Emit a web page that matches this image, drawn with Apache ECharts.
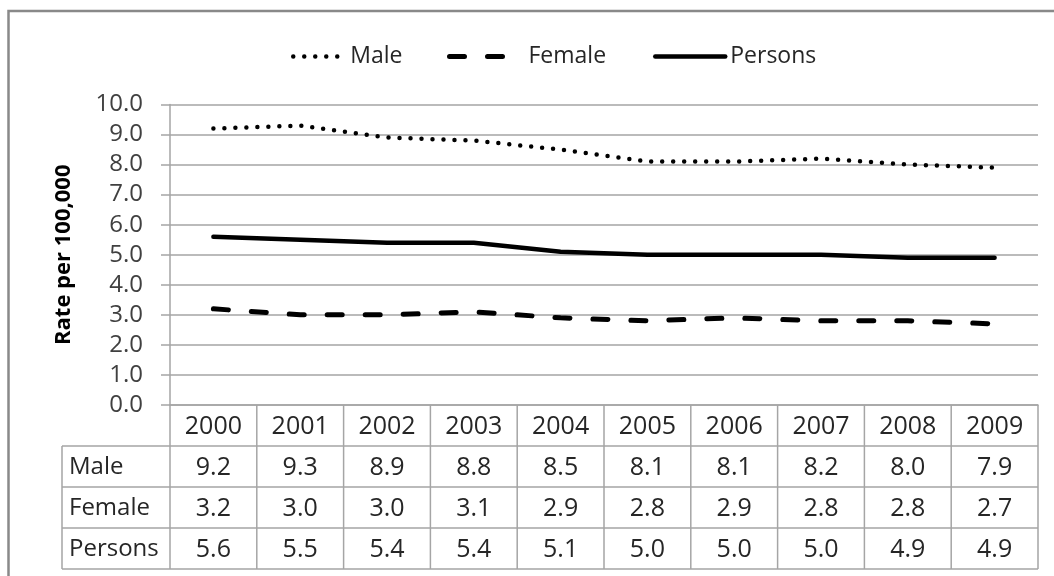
<!DOCTYPE html>
<html>
<head>
<meta charset="utf-8">
<script src="https://cdn.jsdelivr.net/npm/echarts@6/dist/echarts.min.js"></script>
<style>
  html, body { margin: 0; padding: 0; background: #fff; }
  #chart { width: 1054px; height: 576px; }
</style>
</head>
<body>
<div id="chart"></div>
<script>
var years = ["2000", "2001", "2002", "2003", "2004", "2005", "2006", "2007", "2008", "2009"];
var male = [9.2, 9.3, 8.9, 8.8, 8.5, 8.1, 8.1, 8.2, 8.0, 7.9];
var female = [3.2, 3.0, 3.0, 3.1, 2.9, 2.8, 2.9, 2.8, 2.8, 2.7];
var persons = [5.6, 5.5, 5.4, 5.4, 5.1, 5.0, 5.0, 5.0, 4.9, 4.9];
var rowNames = ["Male", "Female", "Persons"];

var FONT = "'Open Sans', 'Noto Sans', sans-serif";
var GRID_COLOR = "#a5a5a5";
var TEXT_COLOR = "#262626";

var chart = echarts.init(document.getElementById("chart"));

function legendFor(name, left, width, textPad, lineStyle) {
  return {
    data: [name],
    left: left,
    top: 40,
    itemWidth: width,
    itemHeight: 20,
    selectedMode: false,
    lineStyle: lineStyle,
    itemStyle: { opacity: 0 },
    textStyle: {
      fontFamily: FONT,
      fontSize: 23,
      color: TEXT_COLOR,
      padding: [0, 0, 0, textPad]
    }
  };
}

var maleStyle = { color: "#000", width: 4.5, type: [0, 11], cap: "round" };
var femaleStyle = { color: "#000", width: 5, type: [15, 23], cap: "round" };
var personsStyle = { color: "#000", width: 4.5, type: "solid", cap: "round" };

chart.setOption({
  animation: false,
  color: ["#000", "#000", "#000"],
  legend: [
    legendFor("Male", 286, 50, 2, maleStyle),
    legendFor("Female", 442, 61, 13, femaleStyle),
    legendFor("Persons", 648, 70, 0, personsStyle)
  ],
  grid: { left: 170, right: 16, top: 104.5, bottom: 171 },
  xAxis: {
    type: "category",
    data: years,
    boundaryGap: true,
    axisLine: { show: true, lineStyle: { color: GRID_COLOR, width: 1.5 } },
    axisTick: { show: false },
    axisLabel: { show: false }
  },
  yAxis: {
    type: "value",
    min: 0,
    max: 10,
    interval: 1,
    name: "Rate per 100,000",
    nameLocation: "middle",
    nameRotate: 90,
    nameGap: 95,
    nameTextStyle: { fontFamily: FONT, fontWeight: "bold", fontSize: 22, color: "#000" },
    axisLine: { show: true, lineStyle: { color: GRID_COLOR, width: 1.5 } },
    axisTick: { show: true, inside: false, length: 9, lineStyle: { color: GRID_COLOR, width: 1.5 } },
    splitLine: { show: true, lineStyle: { color: GRID_COLOR, width: 1.5 } },
    axisLabel: {
      margin: 27,
      fontFamily: FONT,
      fontSize: 24,
      color: "#404040",
      formatter: function (v) { return v.toFixed(1); }
    }
  },
  series: [
    { name: "Male", type: "line", data: male, symbol: "none", lineStyle: maleStyle },
    { name: "Female", type: "line", data: female, symbol: "none", lineStyle: femaleStyle },
    { name: "Persons", type: "line", data: persons, symbol: "none", lineStyle: personsStyle }
  ]
});

// data table under the plot, placed from the category axis
var rowValues = [male, female, persons];
var x0 = chart.convertToPixel({ xAxisIndex: 0 }, 0);
var x1 = chart.convertToPixel({ xAxisIndex: 0 }, 1);
var colW = x1 - x0;
var tableLeft = x0 - colW / 2;
var tableRight = tableLeft + colW * years.length;
var tableTop = chart.convertToPixel({ yAxisIndex: 0 }, 0);
var rowH = 41;
var labelLeft = 62;

var g = [];
var lineStyle = { stroke: GRID_COLOR, lineWidth: 1.5 };
for (var r = 1; r <= 4; r++) {
  g.push({ type: "line", silent: true, shape: { x1: labelLeft, y1: tableTop + r * rowH, x2: tableRight, y2: tableTop + r * rowH }, style: lineStyle });
}
for (var c = 0; c <= years.length; c++) {
  var xx = tableLeft + c * colW;
  g.push({ type: "line", silent: true, shape: { x1: xx, y1: tableTop, x2: xx, y2: tableTop + 4 * rowH }, style: lineStyle });
}
g.push({ type: "line", silent: true, shape: { x1: labelLeft, y1: tableTop + rowH, x2: labelLeft, y2: tableTop + 4 * rowH }, style: lineStyle });

years.forEach(function (y, i) {
  g.push({
    type: "text", silent: true,
    style: { text: y, x: chart.convertToPixel({ xAxisIndex: 0 }, i), y: tableTop + rowH / 2 + 1, align: "center", verticalAlign: "middle", fontFamily: FONT, fontSize: 25, fill: TEXT_COLOR }
  });
});
rowNames.forEach(function (name, r) {
  var cy = tableTop + (r + 1.5) * rowH + 1;
  g.push({
    type: "text", silent: true,
    style: { text: name, x: labelLeft + 7, y: cy, align: "left", verticalAlign: "middle", fontFamily: FONT, fontSize: 24, fill: TEXT_COLOR }
  });
  rowValues[r].forEach(function (v, i) {
    g.push({
      type: "text", silent: true,
      style: { text: v.toFixed(1), x: chart.convertToPixel({ xAxisIndex: 0 }, i), y: cy, align: "center", verticalAlign: "middle", fontFamily: FONT, fontSize: 25, fill: TEXT_COLOR }
    });
  });
});

// outer chart border
g.push({ type: "rect", silent: true, shape: { x: 8.5, y: 11, width: 1100, height: 700 }, style: { fill: "none", stroke: "#898989", lineWidth: 2.5 } });

chart.setOption({ graphic: g });
</script>
</body>
</html>
